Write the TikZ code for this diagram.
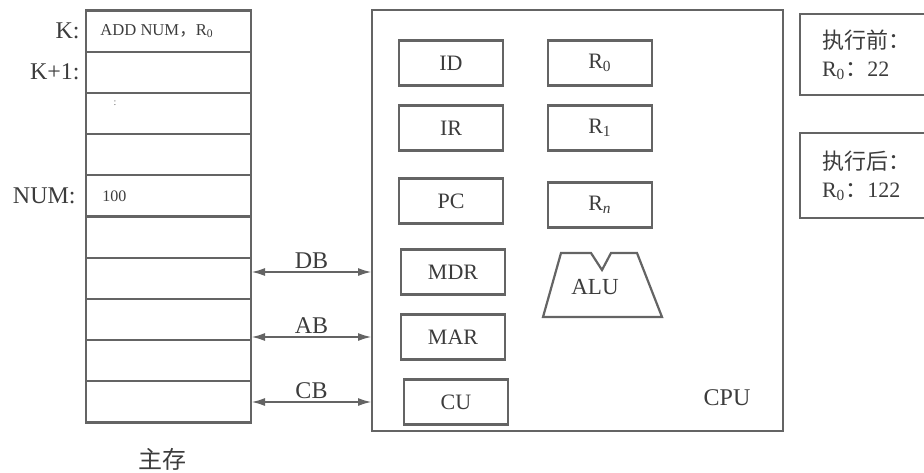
\documentclass[tikz,border=0pt]{standalone}
\usepackage{fontspec}
\setmainfont{Liberation Serif}
\newfontfamily\cjk{Noto Sans CJK SC}
\usetikzlibrary{positioning,arrows.meta}

\definecolor{linegray}{RGB}{100,100,100}
\definecolor{ink}{RGB}{60,60,60}

\tikzset{
  cell/.style={draw=linegray, line width=1.1pt, minimum width=82.5pt, minimum height=20.6pt, inner sep=0pt, outer sep=0pt},
  reg/.style={draw=linegray, line width=1.1pt, minimum width=52pt, minimum height=22.5pt, outer sep=0pt, text=ink, font=\fontsize{11}{13}\selectfont},
  note/.style={draw=linegray, line width=1.1pt, text width=50pt, inner xsep=11pt, align=left, outer sep=0pt, text=ink, font=\fontsize{11}{14}\selectfont},
  lbl/.style={inner sep=1pt, text=ink, font=\fontsize{12}{14}\selectfont},
  bus/.style={{Latex[length=7pt,width=4pt]}-{Latex[length=7pt,width=4pt]}, draw=linegray, line width=1.1pt}
}

\begin{document}
\begin{tikzpicture}[x=0.5pt, y=-0.5pt]
\useasboundingbox (0,0) rectangle (924,472);

% main memory
\node[cell] (m1) at (168.5,31) {};
\node[cell, below=0pt of m1] (m2) {};
\node[cell, below=0pt of m2] (m3) {};
\node[cell, below=0pt of m3] (m4) {};
\node[cell, below=0pt of m4] (m5) {};
\node[cell, below=0pt of m5] (m6) {};
\node[cell, below=0pt of m6] (m7) {};
\node[cell, below=0pt of m7] (m8) {};
\node[cell, below=0pt of m8] (m9) {};
\node[cell, below=0pt of m9] (m10) {};

\node[lbl, left=2pt of m1] (kaddr) {K:};
\node[lbl, left=2pt of m2] (k1addr) {K+1:};
\node[lbl, left=4pt of m5] (numaddr) {NUM:};

\node[anchor=west, inner sep=0pt, text=ink, font=\fontsize{8.3}{10}\selectfont] (instr) at ([xshift=7pt]m1.west) {ADD NUM{\cjk ，}R\textsubscript{0}};
\node[anchor=west, inner sep=0pt, text=ink, font=\fontsize{8}{10}\selectfont] (numval) at ([xshift=8pt]m5.west) {100};
\node[inner sep=0pt, text=linegray, font=\tiny] (vdots) at (115,103) {:};

\node[font=\fontsize{12}{14}\cjk, text=ink] (mainmem) at (162,459) {主存};

% CPU
\node[draw=linegray, line width=1.1pt, minimum width=205.5pt, minimum height=210.5pt, outer sep=0pt] (cpu) at (577.5,220.5) {};

\node[reg] (id) at (451,63) {ID};
\node[reg, below=10pt of id] (ir) {IR};
\node[reg, below=14pt of ir] (pc) {PC};
\node[reg, below=13pt of pc, xshift=1pt] (mdr) {MDR};
\node[reg, below=10pt of mdr] (mar) {MAR};
\node[reg, below=10pt of mar, xshift=1.5pt] (cu) {CU};

\node[reg, right=22.5pt of id] (r0) {R\textsubscript{0}};
\node[reg, below=10pt of r0] (r1) {R\textsubscript{1}};
\node[reg, below=16pt of r1] (rn) {R\textsubscript{\textit{n}}};

\draw[draw=linegray, line width=1.1pt] (543,317) -- (561,253) -- (591,253) -- (602,270) -- (611,253) -- (637,253) -- (662,317) -- cycle;
\node[text=ink, font=\fontsize{11.5}{13}\selectfont] (alu) at (595,287) {ALU};

\node[lbl] (cpulbl) at (727,398) {CPU};

% buses
\draw[bus] (m1.east |- mdr) -- (cpu.west |- mdr) node[midway, above, lbl] {DB};
\draw[bus] (m1.east |- mar) -- (cpu.west |- mar) node[midway, above, lbl] {AB};
\draw[bus] (m1.east |- cu) -- (cpu.west |- cu) node[midway, above, lbl] {CB};

% register contents
\node[note, anchor=north west, minimum height=40.5pt] (before) at (800,14) {{\cjk 执行前：}\\R\textsubscript{0}{\cjk ：}22};
\node[note, anchor=north west, minimum height=42.5pt] (after) at (800,133) {{\cjk 执行后：}\\R\textsubscript{0}{\cjk ：}122};
\end{tikzpicture}
\end{document}
